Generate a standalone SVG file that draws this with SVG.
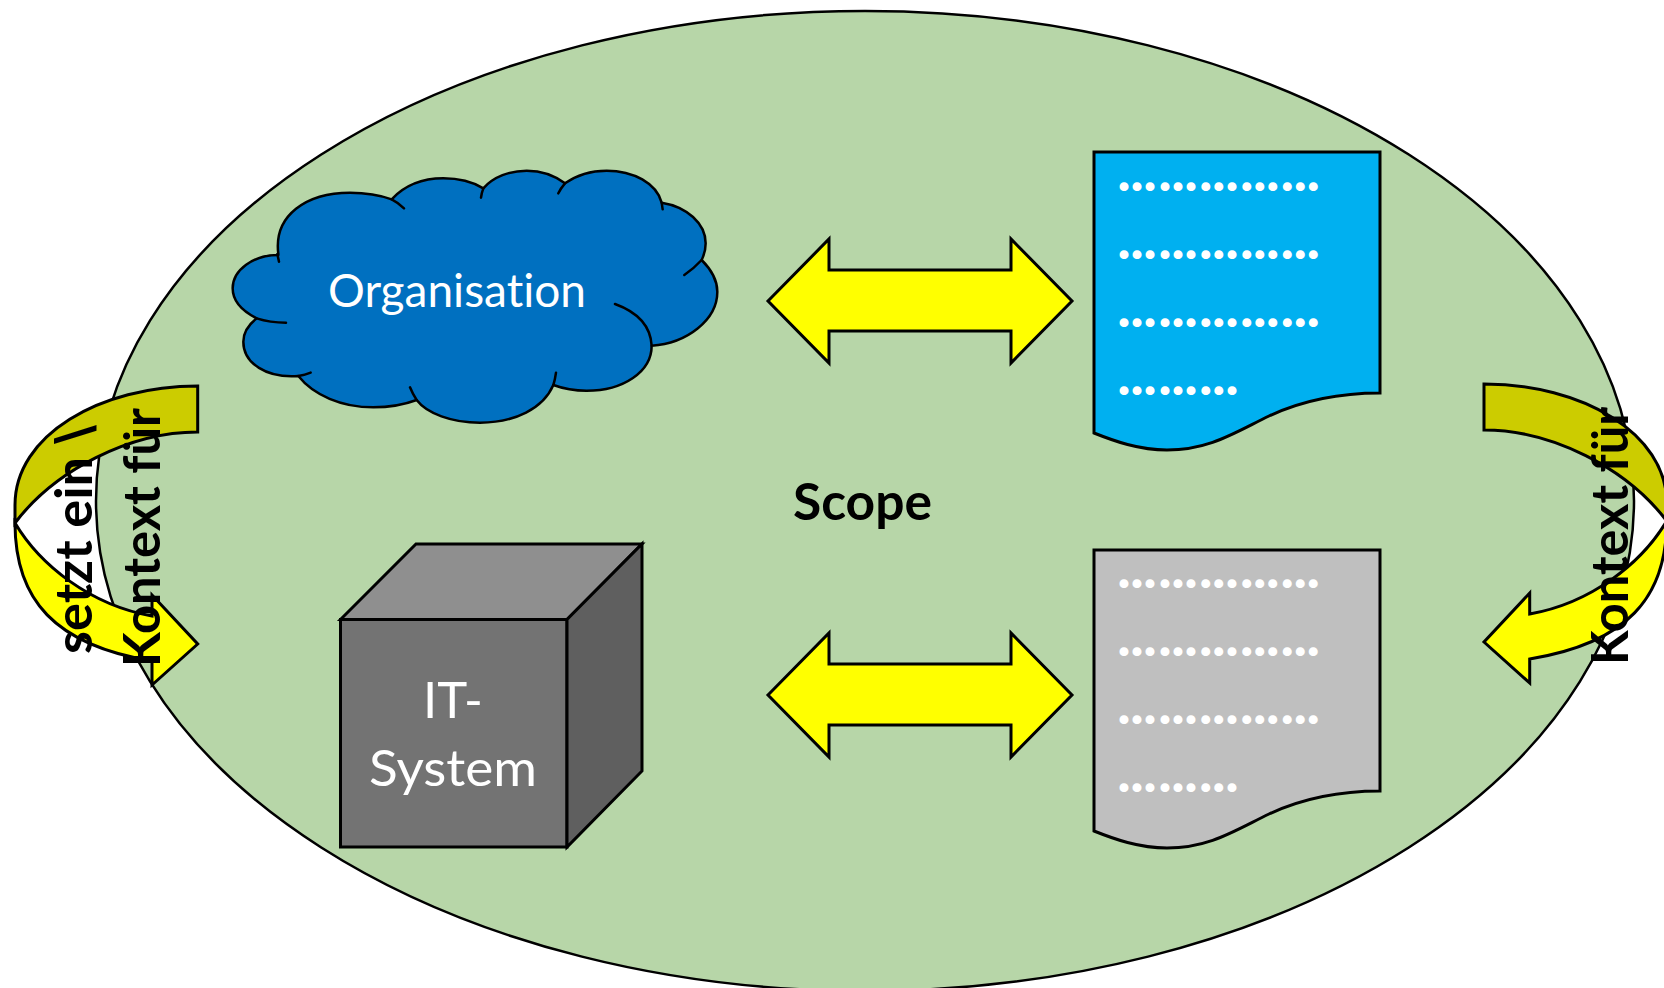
<svg xmlns="http://www.w3.org/2000/svg" width="1664" height="988" viewBox="0 0 1664 988">
<style>
.s{stroke:#000;stroke-width:3;stroke-linejoin:miter}
.c{stroke:#000;stroke-width:7.500;stroke-linecap:round;stroke-linejoin:round}
.t{font-family:Lato,"Open Sans","Liberation Sans",sans-serif;font-variant-ligatures:none}
.w{fill:#fff;font-size:46px}
.b{fill:#000;font-weight:700;font-size:51px}
.d{fill:#fff;stroke:#fff;stroke-width:2.200;stroke-linejoin:round;font-family:Lato,"Open Sans","Liberation Sans",sans-serif;font-weight:700;font-size:44px}
</style>
<defs>
<g id="curved">
<path class="s" fill="#cccc00" d="M197.700 386 C100 386 15 435 15 505 V523 C55 470 130 432 197.700 432 Z"/>
<path class="s" fill="#ffff00" d="M15 523 C15 600 55 645 152 661 V685 L197.700 644 L152 595 V616 C90 605 40 565 15 523 Z"/>
</g>
<path id="dbl" class="s" fill="#ffff00" d="M0 0 L61 -62 V-31 H243 V-62 L304 0 L243 62 V30 H61 V62 Z"/>
<path id="doc" d="M0 0 H286 V241 C240 241 205 250 175 264 C140 281 115 298 73 298 C45 298 20 289 0 281 Z"/>
</defs>
<rect width="1664" height="988" fill="#ffffff"/>
<g id="scope"><ellipse class="s" style="stroke-width:2.500" fill="#b7d6a8" cx="865" cy="501" rx="769" ry="490"/></g>
<g id="organisation">
<g transform="translate(210 150) scale(.33333)">
<path class="c" fill="#0070c0" d="M205 312 C190 195 290 128 420 128 C465 128 510 135 545 148 C585 105 640 85 700 85 C745 85 790 97 820 115 C850 80 900 62 950 62 C995 62 1035 77 1065 100 C1100 75 1145 62 1190 62 C1270 62 1340 100 1355 158 C1430 170 1487 220 1487 280 C1487 300 1482 315 1475 330 C1505 360 1522 390 1522 425 C1522 510 1430 580 1325 587 C1325 665 1240 722 1130 722 C1095 722 1060 716 1030 705 C1000 775 915 818 810 818 C725 818 650 790 620 750 C585 763 540 772 490 772 C395 772 310 735 265 678 C170 685 100 640 100 575 C100 550 115 525 140 505 C100 485 68 455 68 415 C68 360 130 315 205 315 Z"/>
<path class="c" fill="none" d="M207 335 L202 312 M545 148 Q565 158 582 175 M820 115 Q815 128 813 143 M1065 100 Q1052 115 1045 130 M1355 158 L1358 178 M1475 330 Q1452 355 1423 375 M1215 462 Q1320 500 1325 587 M1030 705 Q1035 690 1038 668 M620 750 Q608 732 600 712 M265 678 Q285 675 302 668 M140 505 Q180 518 228 518"/>
</g>
<text class="t w" x="457" y="307" text-anchor="middle" textLength="258" lengthAdjust="spacingAndGlyphs">Organisation</text>
</g>
<g id="it-system">
<path class="s" fill="#737373" d="M340.500 619.500 H567 V847 H340.500 Z"/>
<path class="s" fill="#8f8f8f" d="M340.500 619.500 L416 544 H642 L567 619.500 Z"/>
<path class="s" fill="#5f5f5f" d="M567 619.500 L642 544 V771 L567 847 Z"/>
<text class="t w" style="font-size:51px" x="453" y="718" text-anchor="middle" textLength="60" lengthAdjust="spacingAndGlyphs">IT-</text>
<text class="t w" style="font-size:51px" x="453" y="786" text-anchor="middle" textLength="168" lengthAdjust="spacingAndGlyphs">System</text>
</g>
<g id="doc-blue">
<use href="#doc" x="1094" y="152" class="s" fill="#00b0f0"/>
<text class="d" y="190" x="1118.700 1131.700 1144.700 1159.700 1172.700 1185.700 1200.400 1213.400 1226.700 1241.400 1254.400 1267.400 1282 1295 1308">...............</text>
<text class="d" y="258" x="1118.700 1131.700 1144.700 1159.700 1172.700 1185.700 1200.400 1213.400 1226.700 1241.400 1254.400 1267.400 1282 1295 1308">...............</text>
<text class="d" y="326" x="1118.700 1131.700 1144.700 1159.700 1172.700 1185.700 1200.400 1213.400 1226.700 1241.400 1254.400 1267.400 1282 1295 1308">...............</text>
<text class="d" y="394" x="1118.700 1131.700 1144.700 1159.700 1172.700 1185.700 1200.400 1213.400 1226.700">.........</text>
</g>
<g id="doc-grey">
<use href="#doc" x="1094" y="550" class="s" fill="#bfbfbf"/>
<text class="d" y="587" x="1118.700 1131.700 1144.700 1159.700 1172.700 1185.700 1200.400 1213.400 1226.700 1241.400 1254.400 1267.400 1282 1295 1308">...............</text>
<text class="d" y="655" x="1118.700 1131.700 1144.700 1159.700 1172.700 1185.700 1200.400 1213.400 1226.700 1241.400 1254.400 1267.400 1282 1295 1308">...............</text>
<text class="d" y="723" x="1118.700 1131.700 1144.700 1159.700 1172.700 1185.700 1200.400 1213.400 1226.700 1241.400 1254.400 1267.400 1282 1295 1308">...............</text>
<text class="d" y="791" x="1118.700 1131.700 1144.700 1159.700 1172.700 1185.700 1200.400 1213.400 1226.700">.........</text>
</g>
<g id="connectors">
<use href="#dbl" x="768" y="301"/>
<use href="#dbl" x="768" y="695"/>
<use href="#curved"/>
<use href="#curved" transform="translate(1681.700 -2) scale(-1 1)"/>
</g>
<g id="labels">
<text class="t b" x="862.500" y="520" text-anchor="middle" textLength="139" lengthAdjust="spacingAndGlyphs">Scope</text>
<text class="t b" transform="translate(92 654) rotate(-90)"><tspan textLength="197" lengthAdjust="spacingAndGlyphs">setzt ein</tspan> <tspan x="210" style="font-family:'DejaVu Sans',sans-serif;font-size:52px">\</tspan></text>
<text class="t b" transform="translate(160 667) rotate(-90)" textLength="259" lengthAdjust="spacingAndGlyphs">Kontext für</text>
<text class="t b" transform="translate(1628 665) rotate(-90)" textLength="258" lengthAdjust="spacingAndGlyphs">Kontext für</text>
</g>
</svg>
